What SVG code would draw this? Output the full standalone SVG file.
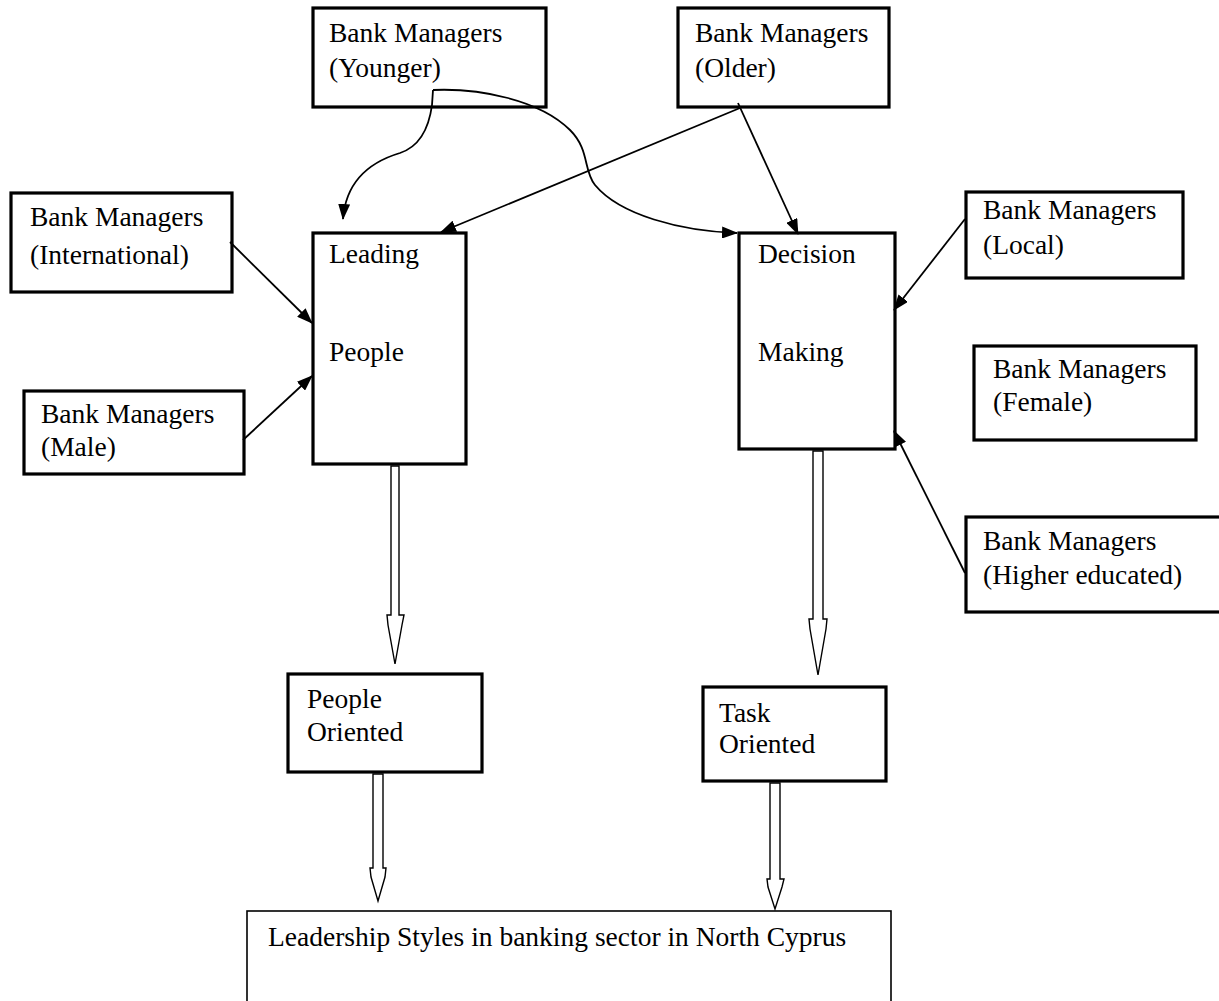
<svg xmlns="http://www.w3.org/2000/svg" width="1219" height="1001" viewBox="0 0 1219 1001">
<style>
.box{fill:#fff;stroke:#000;stroke-width:3.2}
.thin{fill:#fff;stroke:#000;stroke-width:1.6}
.t{font-family:"Liberation Serif","Times New Roman",serif;font-size:27.5px;fill:#000}
.c{fill:none;stroke:#000;stroke-width:1.8}
.h{fill:#fff;stroke:#000;stroke-width:1.4;stroke-linejoin:miter}
</style>
<defs>
<marker id="ah" markerUnits="userSpaceOnUse" markerWidth="16" markerHeight="12" refX="15" refY="6" orient="auto">
<path d="M0,0 L16,6 L0,12 Z" fill="#000"/>
</marker>
</defs>
<rect x="0" y="0" width="1219" height="1001" fill="#fff"/>

<g id="younger"><rect class="box" x="313" y="8" width="233" height="99"/><text class="t" x="329" y="42">Bank Managers</text><text class="t" x="329" y="77">(Younger)</text></g>
<g id="older"><rect class="box" x="678" y="8" width="211" height="99"/><text class="t" x="695" y="42">Bank Managers</text><text class="t" x="695" y="77">(Older)</text></g>
<g id="international"><rect class="box" x="11" y="193" width="221" height="99"/><text class="t" x="30" y="226">Bank Managers</text><text class="t" x="30" y="264">(International)</text></g>
<g id="male"><rect class="box" x="24" y="391" width="220" height="83"/><text class="t" x="41" y="423">Bank Managers</text><text class="t" x="41" y="456">(Male)</text></g>
<g id="leading"><rect class="box" x="313" y="233" width="153" height="231"/><text class="t" x="329" y="263">Leading</text><text class="t" x="329" y="361">People</text></g>
<g id="decision"><rect class="box" x="739" y="233" width="156" height="216"/><text class="t" x="758" y="263">Decision</text><text class="t" x="758" y="361">Making</text></g>
<g id="local"><rect class="box" x="966" y="192" width="217" height="86"/><text class="t" x="983" y="219">Bank Managers</text><text class="t" x="983" y="254">(Local)</text></g>
<g id="female"><rect class="box" x="974" y="346" width="222" height="94"/><text class="t" x="993" y="378">Bank Managers</text><text class="t" x="993" y="411">(Female)</text></g>
<g id="higher"><rect class="box" x="966" y="517" width="260" height="95"/><text class="t" x="983" y="550">Bank Managers</text><text class="t" x="983" y="584">(Higher educated)</text></g>
<g id="people-oriented"><rect class="box" x="288" y="674" width="194" height="98"/><text class="t" x="307" y="708">People</text><text class="t" x="307" y="741">Oriented</text></g>
<g id="task-oriented"><rect class="box" x="703" y="687" width="183" height="94"/><text class="t" x="719" y="722">Task</text><text class="t" x="719" y="753">Oriented</text></g>
<g id="leadership"><rect class="thin" x="247" y="911" width="644" height="100"/><text class="t" x="268" y="946">Leadership Styles in banking sector in North Cyprus</text></g>

<g id="connectors">
<path class="c" marker-end="url(#ah)" d="M433,90 L432,105 C428,135 415,148 400,153 C370,162 346,180 343,219"/>
<path class="c" marker-end="url(#ah)" d="M433,90 C480,88 540,100 570,130 C590,150 583,170 595,185 C620,215 680,231 737,233"/>
<path class="c" marker-end="url(#ah)" d="M740,108 L441,232"/>
<path class="c" marker-end="url(#ah)" d="M738,103 L798,234"/>
<path class="c" marker-end="url(#ah)" d="M230,242 L312,323"/>
<path class="c" marker-end="url(#ah)" d="M243,440 L312,376"/>
<path class="c" marker-end="url(#ah)" d="M965,219 L894,310"/>
<path class="c" marker-end="url(#ah)" d="M965,573 L894,431"/>
<polygon class="h" points="391,466 391,615 387,615 388,625 395,664 402,625 404,615 399,615 399,466"/>
<polygon class="h" points="813,451 813,619 809,619 810,629 818,675 826,629 827,619 823,619 823,451"/>
<polygon class="h" points="373,774 373,868 370,868 371,877 378,901 385,877 386,868 383,868 383,774"/>
<polygon class="h" points="770,783 770,879 767,879 768,887 775,909 782,887 784,879 780,879 780,783"/>
</g>
</svg>
